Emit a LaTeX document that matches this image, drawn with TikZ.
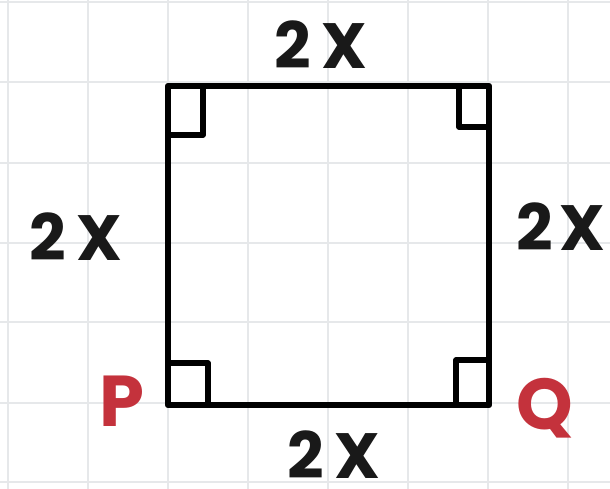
\documentclass[tikz,border=0pt]{standalone}
\usepackage{fontspec}
\setmainfont{Poppins}
\definecolor{gridgray}{HTML}{E6E8EA}
\definecolor{ptred}{HTML}{C4323C}
\tikzset{
  gridline/.style={draw=gridgray, line width=2.2pt},
  sideline/.style={draw=black, line width=6.5pt, line cap=round, line join=round},
  marker/.style={draw=black, line width=5.5pt, line cap=round, line join=round},
  sidelabel/.style={font=\fontsize{64}{64}\selectfont\bfseries, text=black!90, inner sep=0pt, text height=45pt, text depth=0pt},
  ptlabel/.style={font=\fontsize{72}{72}\selectfont\bfseries, text=ptred, inner sep=0pt, text height=51pt, text depth=0pt}
}
\newcommand{\twox}{2\kern10pt X}
\begin{document}
\begin{tikzpicture}[x=1pt,y=-1pt]
\useasboundingbox (0,0) rectangle (610,489);
\fill[white] (0,0) rectangle (610,489);
% grid
\foreach \gx in {8,88,168,248,328,408,488,568} \draw[gridline] (\gx,0) -- (\gx,489);
\foreach \gy in {2,82,163,243,322,403,482} \draw[gridline] (0,\gy) -- (610,\gy);
% corners
\coordinate (P) at (168,405);
\coordinate (Q) at (489,405);
\coordinate (R) at (489,86);
\coordinate (S) at (168,86);
% square
\draw[sideline] (P) -- (Q) -- (R) -- (S) -- cycle;
% right-angle marks
\draw[marker] ([shift={(0,49)}]S) -- ++(35,0) -- ++(0,-49);
\draw[marker] ([shift={(0,41)}]R) -- ++(-30,0) -- ++(0,-41);
\draw[marker] ([shift={(0,-42)}]P) -- ++(40,0) -- ++(0,42);
\draw[marker] ([shift={(0,-45)}]Q) -- ++(-33,0) -- ++(0,45);
% labels
\node[sidelabel] (top) at (321,46) {\twox};
\node[sidelabel] (left) at (76,238) {\twox};
\node[sidelabel] (right) at (561,228) {2\kern6pt X};
\node[sidelabel] (bottom) at (334,456) {\twox};
\node[ptlabel] (lp) at (122,401) {P};
\node[ptlabel] (lq) at (545,404) {Q};
\end{tikzpicture}
\end{document}
